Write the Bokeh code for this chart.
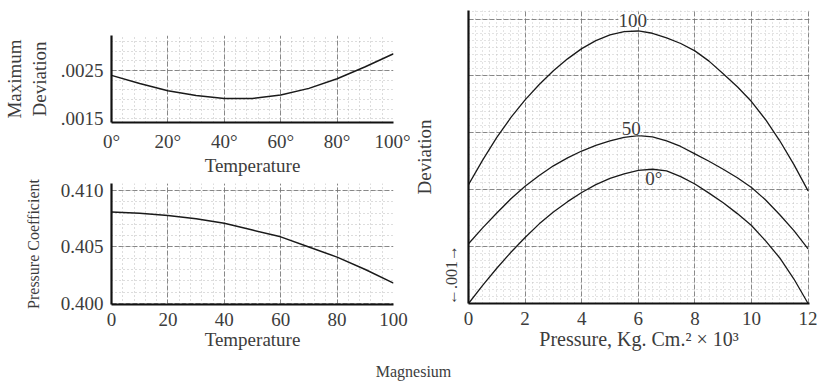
import numpy as np
from bokeh.plotting import figure
from bokeh.layouts import column, row
from bokeh.models import FixedTicker, SingleIntervalTicker, Range1d, Label, Div
from bokeh.embed import file_html
from bokeh.resources import INLINE

# ---- data ----
temp_a = [0, 10, 20, 30, 40, 50, 60, 70, 80, 90, 100]
max_deviation = [0.00240, 0.00223, 0.00208, 0.00198, 0.00192, 0.00192,
                 0.00199, 0.00213, 0.00233, 0.00258, 0.00285]

temp_b = [0, 10, 20, 30, 40, 50, 60, 70, 80, 90, 100]
pressure_coeff = [0.4081, 0.4080, 0.4078, 0.4075, 0.4071, 0.4065, 0.4059,
                  0.4050, 0.4041, 0.4030, 0.4018]

pressure = [0, 0.5, 1, 1.5, 2, 2.5, 3, 3.5, 4, 4.5, 5, 5.5, 6, 6.5, 7, 7.5,
            8, 8.5, 9, 9.5, 10, 10.5, 11, 11.5, 12]
dev_0 = [0.00, 0.32, 0.62, 0.90, 1.16, 1.40, 1.61, 1.79, 1.95, 2.09, 2.20, 2.28, 2.34,
         2.36, 2.33, 2.23, 2.10, 1.94, 1.77, 1.58, 1.37, 1.10, 0.80, 0.43, 0.00]
dev_50 = [1.05, 1.33, 1.59, 1.84, 2.06, 2.25, 2.42, 2.56, 2.68, 2.78, 2.86, 2.92, 2.95,
          2.93, 2.86, 2.76, 2.63, 2.50, 2.36, 2.21, 2.04, 1.82, 1.56, 1.28, 0.96]
dev_100 = [2.09, 2.52, 2.92, 3.27, 3.58, 3.85, 4.09, 4.30, 4.48, 4.62, 4.72, 4.78, 4.79,
           4.75, 4.67, 4.57, 4.44, 4.26, 4.04, 3.81, 3.55, 3.23, 2.86, 2.44, 1.98]
dev_scale = 0.001

temp_ticks = [0, 20, 40, 60, 80, 100]
temp_labels_a = ["0°", "20°", "40°", "60°", "80°", "100°"]
temp_labels_b = ["0", "20", "40", "60", "80", "100"]
maxdev_ticks = [0.0015, 0.0025]
maxdev_labels = [".0015", ".0025"]
coeff_ticks = [0.400, 0.405, 0.410]
coeff_labels = ["0.400", "0.405", "0.410"]
pressure_ticks = [0, 2, 4, 6, 8, 10, 12]
curve_names = ["100", "50", "0°"]

FONT = "Liberation Serif"
TXT = "#3c3c3c"


def style(p, fs="19px"):
    p.outline_line_color = None
    p.background_fill_color = "white"
    p.border_fill_color = "white"
    for ax in (p.xaxis[0], p.yaxis[0]):
        ax.axis_line_width = 2.2
        ax.axis_line_color = "#111111"
        ax.major_tick_line_color = None
        ax.minor_tick_line_color = None
        ax.major_label_text_font = FONT
        ax.major_label_text_font_size = fs
        ax.major_label_text_color = TXT
        ax.axis_label_text_font = FONT
        ax.axis_label_text_font_size = fs
        ax.axis_label_text_font_style = "normal"
        ax.axis_label_text_color = TXT
        ax.major_label_standoff = 2
        ax.axis_label_standoff = 0
    for g in (p.xgrid[0], p.ygrid[0]):
        g.grid_line_color = "#6f6f6f"
        g.grid_line_width = 0.8
        g.grid_line_dash = "5 2"
        g.minor_grid_line_color = "#a8a8a8"
        g.minor_grid_line_width = 0.8
        g.minor_grid_line_dash = "1 3"


# ---- top-left: Maximum deviation vs temperature ----
p1 = figure(width=410, height=178, output_backend="svg", toolbar_location=None,
            x_range=Range1d(0, 100), y_range=Range1d(0.00142, 0.00323),
            min_border_left=105, min_border_right=17, min_border_top=35, min_border_bottom=49)
style(p1)
p1.xaxis.ticker = FixedTicker(ticks=temp_ticks)
p1.xaxis.major_label_overrides = {t: l for t, l in zip(temp_ticks, temp_labels_a)}
p1.yaxis.ticker = FixedTicker(ticks=maxdev_ticks)
p1.yaxis.major_label_overrides = {t: l for t, l in zip(maxdev_ticks, maxdev_labels)}
p1.xgrid.ticker = SingleIntervalTicker(interval=20, num_minor_ticks=5)
p1.ygrid.ticker = FixedTicker(ticks=[0.0025],
                              minor_ticks=list(np.arange(0.0013, 0.0033, 0.0002)))
p1.xaxis.axis_label = "Temperature"
p1.yaxis.axis_label = "Maximum\nDeviation"
p1.yaxis.axis_label_standoff = 8
p1.line(temp_a, max_deviation, line_color="#1a1a1a", line_width=1.5)

# ---- bottom-left: Pressure coefficient vs temperature ----
p2 = figure(width=410, height=174, output_backend="svg", toolbar_location=None,
            x_range=Range1d(0, 100), y_range=Range1d(0.3999, 0.41063),
            min_border_left=105, min_border_right=17, min_border_top=5, min_border_bottom=47)
style(p2)
p2.xaxis.ticker = FixedTicker(ticks=temp_ticks)
p2.xaxis.major_label_overrides = {t: l for t, l in zip(temp_ticks, temp_labels_b)}
p2.yaxis.ticker = FixedTicker(ticks=coeff_ticks)
p2.yaxis.major_label_overrides = {t: l for t, l in zip(coeff_ticks, coeff_labels)}
p2.xgrid.ticker = SingleIntervalTicker(interval=20, num_minor_ticks=5)
p2.ygrid.ticker = SingleIntervalTicker(interval=0.005, num_minor_ticks=5)
p2.xaxis.axis_label = "Temperature"
p2.yaxis.axis_label = "Pressure Coefficient"
p2.yaxis.axis_label_text_font_size = "16px"
p2.yaxis.axis_label_standoff = 16
p2.line(temp_b, pressure_coeff, line_color="#1a1a1a", line_width=1.5)

# ---- right: Deviation vs pressure ----
p3 = figure(width=407, height=352, output_backend="svg", toolbar_location=None,
            x_range=Range1d(0, 12.05), y_range=Range1d(0, 0.00515),
            min_border_left=56, min_border_right=8, min_border_top=10, min_border_bottom=47)
style(p3, fs="19px")
p3.xaxis.axis_label_text_font_size = "20px"
p3.xaxis.ticker = FixedTicker(ticks=pressure_ticks)
p3.yaxis.ticker = FixedTicker(ticks=[0.0005])
p3.yaxis.major_label_overrides = {0.0005: "←.001→"}
p3.yaxis.major_label_orientation = "vertical"
p3.yaxis.major_label_text_font_size = "16px"
p3.yaxis.axis_label_standoff = 6
p3.xgrid.ticker = SingleIntervalTicker(interval=2, num_minor_ticks=8)
p3.ygrid.ticker = SingleIntervalTicker(interval=0.001, num_minor_ticks=8)
p3.xgrid.minor_grid_line_color = "#b8b8b8"
p3.ygrid.minor_grid_line_color = "#b8b8b8"
p3.xaxis.axis_label = "Pressure, Kg. Cm.² × 10³"
p3.yaxis.axis_label = "Deviation"
for series in (dev_0, dev_50, dev_100):
    p3.line(pressure, [v * dev_scale for v in series], line_color="#1a1a1a", line_width=1.3)

label_pos = [(5.8, 4.97), (5.75, 3.07), (6.55, 2.2)]
for name, (lx, ly) in zip(curve_names, label_pos):
    p3.add_layout(Label(x=lx, y=ly * dev_scale, text=name, text_align="center",
                        text_baseline="middle", text_font=FONT, text_font_size="19px",
                        text_color=TXT, background_fill_color="white",
                        background_fill_alpha=1.0 if name != "0°" else 0.0))

caption = Div(
    text=('<div style="width:817px;text-align:center;font-family:\'Liberation Serif\';'
          'font-size:16px;color:#3c3c3c;padding-top:4px;">Magnesium</div>'),
    width=817, height=36)

layout = column(row(column(p1, p2, spacing=0), p3, spacing=0), caption, spacing=0)
open("out.html", "w").write(file_html(layout, INLINE))
